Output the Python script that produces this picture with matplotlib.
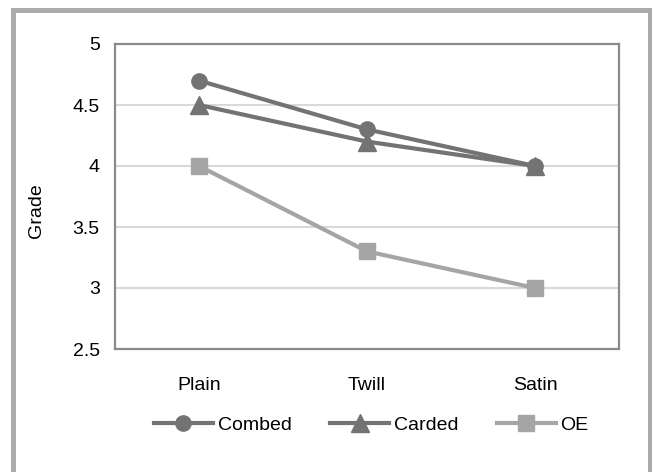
import matplotlib.pyplot as plt
from matplotlib.lines import Line2D

# data
weaves = ['Plain', 'Twill', 'Satin']
combed = [4.7, 4.3, 4.0]
carded = [4.5, 4.2, 4.0]
oe = [4.0, 3.3, 3.0]
yticks = [2.5, 3, 3.5, 4, 4.5, 5]
ytick_labels = ['2.5', '3', '3.5', '4', '4.5', '5']

plt.rcParams['font.family'] = ['Liberation Sans', 'DejaVu Sans']

W, H = 652, 472
fig = plt.figure(figsize=(W / 100, H / 100), dpi=100)
ax = fig.add_axes([115 / W, 1 - 349 / H, (619 - 115) / W, (349 - 44) / H])

dark = '#737373'
light = '#a5a5a5'
x = range(len(weaves))
ax.plot(x, combed, color=dark, lw=3, marker='o', ms=11, label='Combed', zorder=3)
ax.plot(x, carded, color=dark, lw=3, marker='^', ms=13, label='Carded', zorder=3)
ax.plot(x, oe, color=light, lw=3, marker='s', ms=12, label='OE', zorder=3)

ax.set_xlim(-0.5, len(weaves) - 0.5)
ax.set_ylim(2.5, 5)
ax.set_xticks(list(x))
ax.set_xticklabels(weaves)
ax.set_yticks(yticks)
ax.set_yticklabels(ytick_labels)
ax.tick_params(axis='both', length=0, labelsize=14, colors='black')
ax.tick_params(axis='y', pad=11)
ax.tick_params(axis='x', pad=20)
ax.grid(axis='y', color='#d9d9d9', lw=1.5, zorder=0)
ax.set_axisbelow(True)
for s in ax.spines.values():
    s.set_color('#8a8a8a')
    s.set_linewidth(1.6)

fig.text(37 / W, 1 - 211 / H, 'Grade', rotation=90, ha='center', va='center', fontsize=14)

ax.legend(loc='center', bbox_to_anchor=(0.5 * (153 + 590) / W, 1 - 425 / H),
          bbox_transform=fig.transFigure, ncol=3, frameon=False, fontsize=14,
          handlelength=3.0, handletextpad=0.26, columnspacing=2.0)

# outer grey frame (bottom edge is cut off)
frame = Line2D([13.5 / W, 13.5 / W, 650 / W, 650 / W],
               [-0.1, 1 - 9.5 / H, 1 - 9.5 / H, -0.1],
               transform=fig.transFigure, color='#ababab', lw=3.6,
               solid_joinstyle='miter')
fig.add_artist(frame)

fig.savefig('out.png', dpi=100)
